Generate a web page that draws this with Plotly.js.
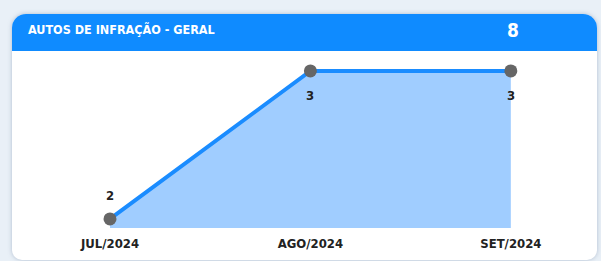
<!DOCTYPE html>
<html><head><meta charset="utf-8">
<script src="https://cdn.plot.ly/plotly-3.0.1.min.js"></script>
<style>
html,body{margin:0;padding:0;width:601px;height:261px;overflow:hidden;background:#e9f0f7;}
#card{position:absolute;left:12px;top:14px;width:585px;height:246px;background:#fff;border-radius:14px 14px 10px 10px;box-shadow:0 0 4px rgba(120,140,170,0.5);overflow:hidden;}
#hdr{position:absolute;left:0;top:0;width:100%;height:37px;background:#0f8bff;}
#ttl{position:absolute;left:16px;top:8px;color:#fff;font:bold 12.5px "DejaVu Sans Condensed",sans-serif;}
#num{position:absolute;left:495px;top:5px;color:#fff;font:bold 19px "DejaVu Sans Condensed",sans-serif;}
#plot{position:absolute;left:0;top:0;width:601px;height:261px;}
</style></head>
<body>
<div id="card"><div id="hdr"><span id="ttl">AUTOS DE INFRAÇÃO - GERAL</span><span id="num">8</span></div></div>
<div id="plot"></div>
<script>
const months = ["JUL/2024", "AGO/2024", "SET/2024"];
const autos = [2, 3, 3];
const labelShift = [23, -25, -25];

const lblFont = {family: "DejaVu Sans Condensed", size: 13, color: "#222", weight: "bold"};

Plotly.newPlot("plot", [{
  x: months, y: autos, type: "scatter", mode: "lines+markers",
  fill: "tozeroy", fillcolor: "#a0cdff",
  line: {color: "#1a8cff", width: 4},
  marker: {color: "#666666", size: 13},
  cliponaxis: false, hoverinfo: "skip"
}], {
  width: 601, height: 261,
  margin: {l: 20, r: 10, t: 60, b: 33},
  paper_bgcolor: "rgba(0,0,0,0)", plot_bgcolor: "rgba(0,0,0,0)",
  showlegend: false,
  xaxis: {type: "category", range: [-0.449, 2.4], showgrid: false, zeroline: false, showline: false,
    ticks: "", tickfont: lblFont, ticklabelstandoff: 6},
  yaxis: {range: [1.939, 3.074], visible: false, showgrid: false, zeroline: false},
  annotations: months.map((m, i) => ({
    x: m, y: autos[i], text: String(autos[i]), showarrow: false,
    yshift: labelShift[i], font: lblFont
  }))
}, {displayModeBar: false, staticPlot: true});
</script>
</body></html>
